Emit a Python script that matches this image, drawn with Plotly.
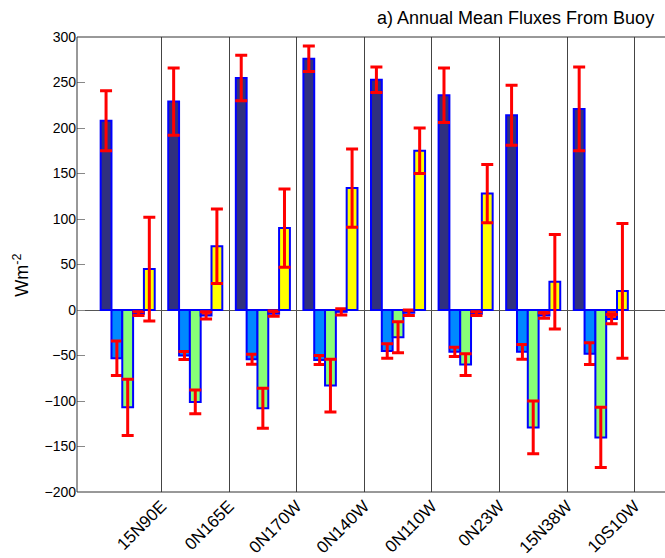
import plotly.graph_objects as go

# Buoy sites and annual mean surface flux components (W m^-2) with error estimates
sites = ["15N90E", "0N165E", "0N170W", "0N140W", "0N110W", "0N23W", "15N38W", "10S10W"]
site_pos = [1, 2, 3, 4, 5, 6, 7, 8]
sep_pos = [1.5, 2.5, 3.5, 4.5, 5.5, 6.5, 7.5, 8.5]

shortwave = [208, 229, 255, 276, 253, 236, 214, 221]
shortwave_err = [33, 37, 25, 14, 14, 30, 33, 46]
longwave = [-53, -50, -54, -55, -45, -46, -46, -48]
longwave_err = [19, 4.5, 5.5, 5, 8, 5, 8, 12]
latent = [-107, -101, -108, -83, -30, -60, -129, -140]
latent_err = [31, 13, 22, 29, 17, 12, 29, 33]
sensible = [-4, -6, -4, -2, -3, -4, -6, -10]
sensible_err = [2, 4, 3, 3.5, 3, 2, 3, 5]
net = [45, 70, 90, 134, 175, 128, 31, 21]
net_err = [57, 41, 43, 43, 25, 32, 52, 74]

y_ticks = [300, 250, 200, 150, 100, 50, 0, -50, -100, -150, -200]

series = [
    ("Shortwave", shortwave, shortwave_err, "#30307f"),
    ("Longwave", longwave, longwave_err, "#0088ff"),
    ("Latent", latent, latent_err, "#88ff77"),
    ("Sensible", sensible, sensible_err, "#ff2000"),
    ("Net", net, net_err, "#ffff00"),
]

fig = go.Figure()
for name, vals, errs, color in series:
    fig.add_trace(go.Bar(
        x=site_pos, y=vals, name=name,
        marker=dict(color=color, line=dict(color="#0000ff", width=2)),
        error_y=dict(type="data", array=errs, visible=True,
                     color="#ff0000", thickness=3, width=6),
    ))

# Frame: left, top and bottom edges of the plotting box
frame_color = "#333333"
for x0, y0, x1, y1 in [(0, 0, 0, 1), (0, 1, 1, 1), (0, 0, 1, 0)]:
    fig.add_shape(type="line", xref="paper", yref="paper",
                  x0=x0, y0=y0, x1=x1, y1=y1,
                  line=dict(color=frame_color, width=1), layer="above")

fig.update_layout(
    width=665, height=558,
    margin=dict(l=77, r=0, t=37, b=66, autoexpand=False),
    barmode="group", bargap=0.2, bargroupgap=0,
    plot_bgcolor="white", paper_bgcolor="white",
    showlegend=False,
    font=dict(family="Liberation Sans, Arial, sans-serif", color="black"),
    xaxis=dict(
        range=[0.25, 8.95], automargin=False,
        tickmode="array", tickvals=sep_pos, ticktext=sites,
        tickangle=-45, tickfont=dict(size=17),
        ticks="", showgrid=True, gridcolor="#444444", gridwidth=1,
        showline=False, zeroline=False,
    ),
    yaxis=dict(
        range=[-200, 300], automargin=False,
        tickmode="array", tickvals=y_ticks,
        tickfont=dict(size=14),
        ticks="inside", ticklen=8, tickcolor="#888888",
        showgrid=False, showline=False,
        zeroline=True, zerolinecolor="#555555", zerolinewidth=1,
    ),
    annotations=[
        dict(text="a) Annual Mean Fluxes From Buoy", xref="paper", yref="paper",
             x=0.985, y=1.042, xanchor="right", yanchor="middle",
             showarrow=False, font=dict(size=18)),
        dict(text="Wm<sup>-2</sup>", xref="paper", yref="paper",
             x=-0.094, y=0.477, xanchor="center", yanchor="middle",
             textangle=-90, showarrow=False, font=dict(size=18)),
    ],
)

fig.write_html("out.html")
